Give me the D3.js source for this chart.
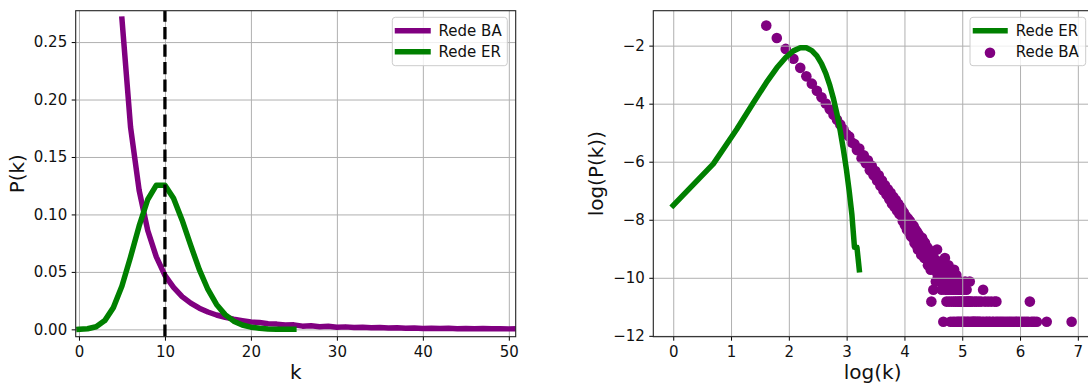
<!DOCTYPE html>
<html><head><meta charset="utf-8">
<script src="https://cdn.jsdelivr.net/npm/d3@7"></script>
<style>body{margin:0;background:#fff} svg text{font-family:"DejaVu Sans",sans-serif;fill:#111}</style>
</head><body><svg id="c" width="1088" height="385"></svg>
<script>
// ---------------- data ----------------
const nodeCount = 100000;
const meanDegree = 10;
// BA network: [degree, number of nodes]
const baDistribution = [
 [5,27000],[6,17600],[7,12100],[8,8600],[9,6300],[10,4700],[11,3650],[12,2850],[13,2280],[14,1840],
 [15,1510],[16,1250],[17,1050],[18,890],[19,760],[20,640],[21,590],[22,480],[23,455],[24,370],
 [25,390],[26,280],[27,310],[28,235],[29,260],[30,185],[31,215],[32,155],[33,180],[34,130],
 [35,155],[36,108],[37,130],[38,92],[39,110],[40,80],[41,96],[42,68],[43,85],[44,58],
 [45,74],[46,52],[47,66],[48,46],[49,58],[50,41],[51,52],
 [52,48],[53,32],[54,43],[55,28],[56,38],[57,24],[58,35],[59,22],[60,32],[61,19],[62,29],[63,18],
 [64,27],[65,15],[66,24],[67,14],[68,22],[69,12],[70,20],[71,12],[72,18],[73,10],[74,18],[75,11],
 [76,16],[77,9],[78,15],[79,9],[80,12],[81,13],[82,7],[83,12],[84,7],[85,11],[86,6],[87,2],
 [88,8],[89,7],[90,3],[91,9],[92,6],[93,6],[94,4],[95,7],[96,12],[97,5],[98,8],[99,6],[100,5],
 [101,7],[102,4],[103,6],[104,3],[105,5],[106,8],[107,1],[108,4],[109,6],[110,9],[111,3],[112,5],
 [113,2],[114,4],[115,6],[116,3],[117,7],[118,2],[119,4],[120,5],[121,1],[122,3],[123,2],[124,5],
 [125,4],[126,1],[127,3],[128,2],[129,6],[130,1],[131,4],[132,2],[133,3],[134,5],[135,1],[136,2],
 [137,4],[138,1],[139,3],[140,2],[141,1],[142,3],[143,2],[144,4],[145,1],[146,2],[147,3],[148,1],
 [150,2],[151,1],[152,3],[154,1],[155,2],[156,4],[158,1],[159,2],[160,3],[162,1],[163,2],[165,1],
 [166,2],[167,2],[169,4],[170,1],[172,2],[174,1],[176,2],[178,1],[180,1],[182,1],[184,2],[186,1],
 [188,1],[190,2],[193,1],[195,1],[198,2],[200,1],[203,1],[206,2],[210,1],[213,3],[216,1],[220,2],
 [224,1],[228,1],[232,2],[236,1],[240,1],[245,2],[250,1],[255,1],[260,2],[265,1],[268,2],[272,1],
 [280,1],[288,1],[296,1],[305,1],[315,1],[325,1],[335,1],[345,1],[356,1],[368,1],[380,1],[392,1],
 [405,1],[420,1],[435,1],[450,1],[465,1],[478,2],[490,1],[505,1],[520,1],[540,1],[640,1],[985,1]
];
// ER network: [degree, number of nodes]
const erDistribution = [
 [0,0],[1,55],[2,230],[3,760],[4,1890],[5,3780],[6,6300],[7,9000],[8,11300],[9,12550],[10,12550],
 [11,11400],[12,9500],[13,7300],[14,5200],[15,3470],[16,2170],[17,1280],[18,710],[19,375],[20,190],
 [21,90],[22,40],[23,13],[24,13],[25,6]
];
const seriesNames = ["Rede BA", "Rede ER"];
const leftXTicks = [0,10,20,30,40,50];
const leftYTicks = [0,0.05,0.10,0.15,0.20,0.25];
const rightXTicks = [0,1,2,3,4,5,6,7];
const rightYTicks = [-12,-10,-8,-6,-4,-2];
const xLabels = ["k", "log(k)"];
const yLabels = ["P(k)", "log(P(k))"];

// ---------------- drawing ----------------
const PURPLE = "#800080", GREEN = "#008000";
const TICK_FS = 15, LABEL_FS = 20, LEGEND_FS = 15;
const svg = d3.select("#c");
const ba = baDistribution.map(([k,c]) => ({k, p: c / nodeCount}));
const er = erDistribution.map(([k,c]) => ({k, p: c / nodeCount}));

const L = {x0:75.7, x1:515.7, y0:10.7, y1:336.7};
const R = {x0:653.3, x1:1092, y0:10.7, y1:336.7};

const lx = d3.scaleLinear().domain([-0.38, 50.8]).range([L.x0, L.x1]);
const ly = d3.scaleLinear().domain([-0.0064, 0.2773]).range([L.y1, L.y0]);
const rx = d3.scaleLinear().domain([-0.345, 7.245]).range([R.x0, R.x1]);
const ry = d3.scaleLinear().domain([-12.03, -0.796]).range([R.y1, R.y0]);

const defs = svg.append("defs");
function clip(id, P){ defs.append("clipPath").attr("id", id).append("rect")
  .attr("x", P.x0).attr("y", P.y0).attr("width", P.x1-P.x0).attr("height", P.y1-P.y0); }
clip("cl", L); clip("cr", R);

function grid(P, xs, ys, xt, yt){
  const g = svg.append("g");
  g.append("g").attr("transform", `translate(0,${P.y1})`)
    .call(d3.axisBottom(xs).tickValues(xt).tickSize(-(P.y1-P.y0)).tickFormat(""))
    .call(s => { s.select(".domain").remove(); s.selectAll("line").attr("stroke","#b0b0b0").attr("stroke-width",1); });
  g.append("g").attr("transform", `translate(${P.x0},0)`)
    .call(d3.axisLeft(ys).tickValues(yt).tickSize(-(P.x1-P.x0)).tickFormat(""))
    .call(s => { s.select(".domain").remove(); s.selectAll("line").attr("stroke","#b0b0b0").attr("stroke-width",1); });
}
function axes(P, xs, ys, xt, yt, yfmt, xl, yl, ylx){
  const g = svg.append("g");
  const bx = g.append("g").attr("transform", `translate(0,${P.y1})`)
    .call(d3.axisBottom(xs).tickValues(xt).tickSize(4).tickPadding(5.4).tickFormat(d3.format("d")));
  const by = g.append("g").attr("transform", `translate(${P.x0},0)`)
    .call(d3.axisLeft(ys).tickValues(yt).tickSize(4).tickPadding(4.5).tickFormat(yfmt));
  [bx, by].forEach(a => {
    a.select(".domain").remove();
    a.selectAll("line").attr("stroke","#000").attr("stroke-width",1);
    a.selectAll("text").attr("font-size",TICK_FS).attr("font-family","DejaVu Sans").attr("fill","#111");
  });
  g.append("rect").attr("x",P.x0).attr("y",P.y0).attr("width",P.x1-P.x0).attr("height",P.y1-P.y0)
    .attr("fill","none").attr("stroke","#222").attr("stroke-width",1.1);
  g.append("text").attr("x",(P.x0+P.x1)/2).attr("y",379).attr("text-anchor","middle")
    .attr("font-size",LABEL_FS).text(xl);
  g.append("text").attr("transform",`translate(${ylx},${(P.y0+P.y1)/2}) rotate(-90)`)
    .attr("text-anchor","middle").attr("font-size",LABEL_FS).text(yl);
}

// ---- left panel ----
grid(L, lx, ly, leftXTicks, leftYTicks);
const lg = svg.append("g").attr("clip-path","url(#cl)");
const lineL = d3.line().x(d => lx(d.k)).y(d => ly(d.p));
lg.append("path").datum(ba.filter(d => d.k <= 60)).attr("d", lineL)
  .attr("fill","none").attr("stroke",PURPLE).attr("stroke-width",5.5)
  .attr("stroke-linejoin","round").attr("stroke-linecap","square");
lg.append("path").datum(er).attr("d", lineL)
  .attr("fill","none").attr("stroke",GREEN).attr("stroke-width",5.5)
  .attr("stroke-linejoin","round").attr("stroke-linecap","square");
lg.append("line").attr("x1",lx(meanDegree)).attr("x2",lx(meanDegree))
  .attr("y1",L.y1).attr("y2",L.y0).attr("stroke","#000").attr("stroke-width",3.3)
  .attr("stroke-dasharray","12.2,5.3");
axes(L, lx, ly, leftXTicks, leftYTicks, d3.format(".2f"), xLabels[0], yLabels[0], 24);

// ---- right panel ----
const rg = svg.append("g").attr("clip-path","url(#cr)");
rg.selectAll("circle").data(ba.filter(d => d.p > 0)).join("circle")
  .attr("cx", d => rx(Math.log(d.k))).attr("cy", d => ry(Math.log(d.p)))
  .attr("r", 5.3).attr("fill", PURPLE);
grid(R, rx, ry, rightXTicks, rightYTicks);
const rg2 = svg.append("g").attr("clip-path","url(#cr)");
rg2.append("path").datum(er.filter(d => d.k > 0 && d.p > 0))
  .attr("d", d3.line().x(d => rx(Math.log(d.k))).y(d => ry(Math.log(d.p))))
  .attr("fill","none").attr("stroke",GREEN).attr("stroke-width",5.5)
  .attr("stroke-linejoin","round").attr("stroke-linecap","square");
axes(R, rx, ry, rightXTicks, rightYTicks, d3.format("d"), xLabels[1], yLabels[1], 603);

// ---- legends ----
function legendBox(x, y, w, h){
  svg.append("rect").attr("x",x).attr("y",y).attr("width",w).attr("height",h).attr("rx",3)
    .attr("fill","#fff").attr("fill-opacity",0.8).attr("stroke","#cccccc").attr("stroke-width",1);
}
legendBox(392.3, 17.3, 115, 48.4);
[[seriesNames[0], PURPLE, 30.7], [seriesNames[1], GREEN, 51.7]].forEach(([t,c,y]) => {
  svg.append("line").attr("x1",397.5).attr("x2",428).attr("y1",y).attr("y2",y)
    .attr("stroke",c).attr("stroke-width",5.5).attr("stroke-linecap","square");
  svg.append("text").attr("x",438.6).attr("y",y+5.4).attr("font-size",LEGEND_FS).text(t);
});
legendBox(970, 17.3, 115.7, 48.4);
svg.append("line").attr("x1",975.5).attr("x2",1005).attr("y1",30.7).attr("y2",30.7)
  .attr("stroke",GREEN).attr("stroke-width",5.5).attr("stroke-linecap","square");
svg.append("text").attr("x",1015.8).attr("y",36.1).attr("font-size",LEGEND_FS).text(seriesNames[1]);
svg.append("circle").attr("cx",990).attr("cy",52.7).attr("r",5.3).attr("fill",PURPLE);
svg.append("text").attr("x",1015.8).attr("y",57.1).attr("font-size",LEGEND_FS).text(seriesNames[0]);
</script></body></html>
